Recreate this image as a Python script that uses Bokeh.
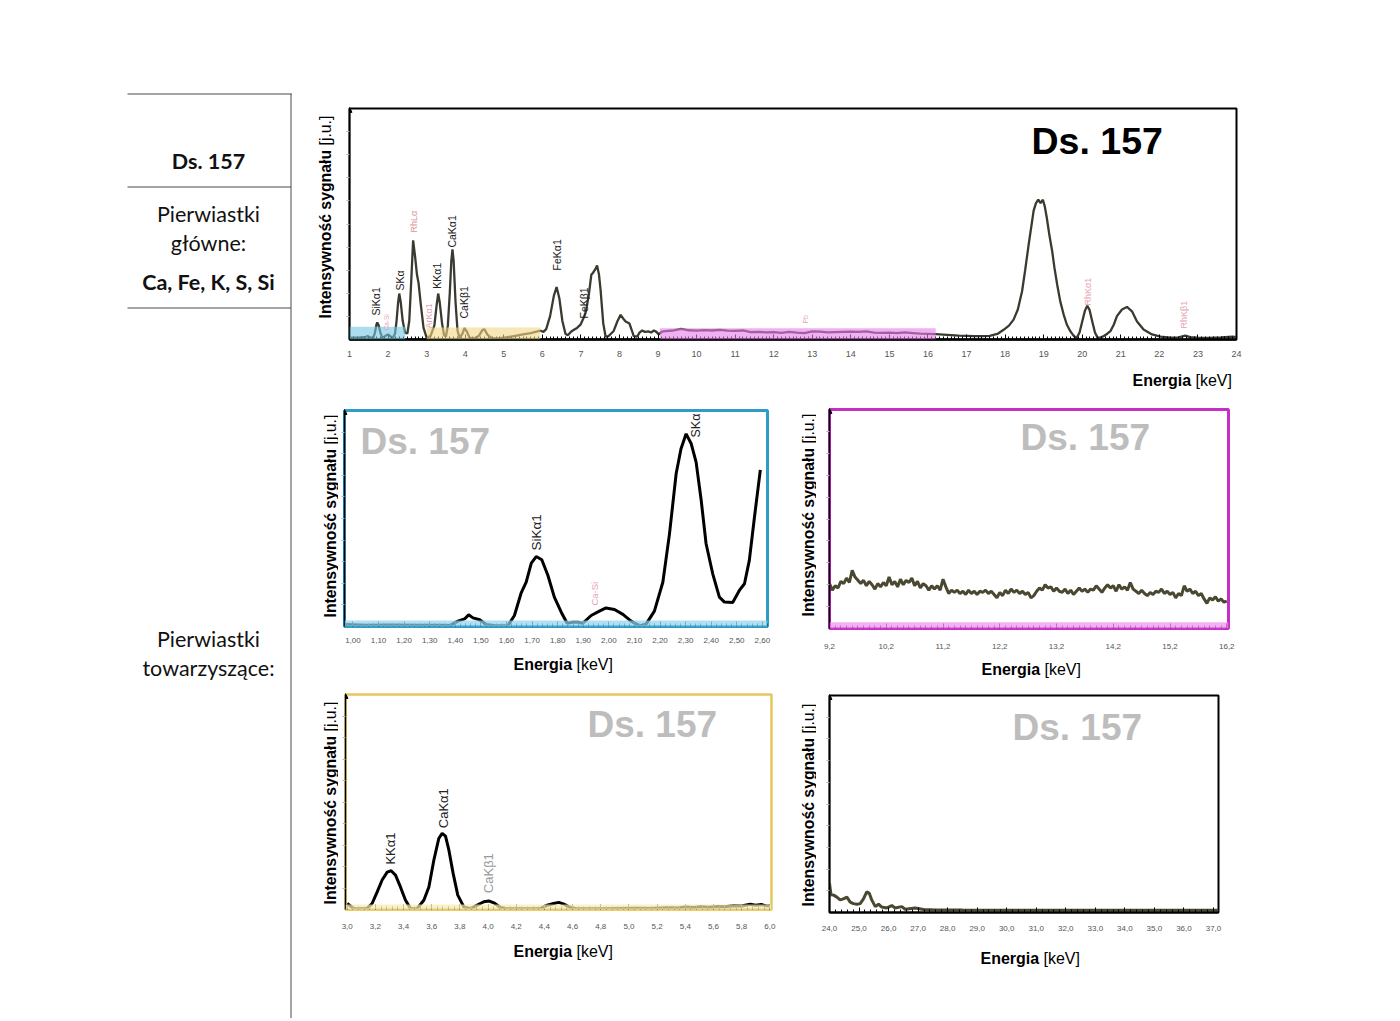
import math
from bokeh.plotting import figure
from bokeh.models import (Range1d, Label, FixedTicker, CustomJSTickFormatter,
                          Arrow, NormalHead, BoxAnnotation, Spacer)
from bokeh.layouts import row, column
from bokeh.embed import file_html
from bokeh.resources import INLINE

# ======================= DATA =======================
sample_name = "Ds. 157"
main_label = ["Pierwiastki", "główne:"]
main_elements = "Ca, Fe, K, S, Si"
accomp_label = ["Pierwiastki", "towarzyszące:"]
y_title_bold, y_title_unit = "Intensywność sygnału", "[j.u.]"
x_title_bold, x_title_unit = "Energia", "[keV]"

# overview spectrum, 1-24 keV (signal in arbitrary units)
top_energy = [1.00, 1.20, 1.40, 1.47, 1.55, 1.62, 1.66, 1.70, 1.72, 1.76, 1.80, 1.85, 1.90, 1.95, 2.00,
              2.05, 2.12, 2.18, 2.22, 2.26, 2.29, 2.33, 2.38, 2.44, 2.50, 2.55, 2.60, 2.65, 2.70, 2.75,
              2.79, 2.85, 2.92, 3.00, 3.10, 3.20, 3.26, 3.30, 3.34, 3.40, 3.45, 3.50, 3.55, 3.60, 3.64,
              3.67, 3.70, 3.75, 3.80, 3.85, 3.93, 3.98, 4.04, 4.12, 4.25, 4.35, 4.45, 4.50, 4.58, 4.70,
              4.90, 5.10, 5.30, 5.50, 5.70, 5.85, 5.95, 6.03, 6.10, 6.20, 6.30, 6.37, 6.44, 6.52, 6.60,
              6.66, 6.75, 6.82, 6.90, 6.99, 7.06, 7.12, 7.20, 7.27, 7.31, 7.36, 7.42, 7.47, 7.51, 7.58,
              7.64, 7.72, 7.85, 7.95, 8.03, 8.10, 8.16, 8.26, 8.32, 8.37, 8.46, 8.52, 8.59, 8.66, 8.76,
              8.82, 8.89, 8.95, 9.02, 9.10, 9.20, 9.40, 9.60, 9.80, 10.0, 10.2, 10.4, 10.6, 10.8, 11.0,
              11.2, 11.4, 11.6, 11.8, 12.0, 12.2, 12.4, 12.6, 12.8, 13.0, 13.2, 13.4, 13.6, 13.8, 14.0,
              14.2, 14.4, 14.6, 14.8, 15.0, 15.2, 15.4, 15.6, 15.8, 16.0, 16.2, 16.4, 16.6, 16.8, 17.0,
              17.2, 17.4, 17.6, 17.8, 17.96, 18.10, 18.22, 18.33, 18.44, 18.52, 18.61, 18.68, 18.74, 18.80, 18.86,
              18.92, 18.98, 19.03, 19.08, 19.15, 19.22, 19.28, 19.35, 19.43, 19.52, 19.60, 19.69, 19.77, 19.85, 19.93,
              20.00, 20.07, 20.13, 20.19, 20.26, 20.33, 20.40, 20.48, 20.56, 20.65, 20.73, 20.82, 20.90, 21.03, 21.16,
              21.29, 21.42, 21.59, 21.81, 22.03, 22.29, 22.50, 22.67, 22.80, 23.00, 23.30, 23.60, 23.90, 24.00]
top_signal = [0.8, 0.8, 1.0, 1.5, 0.8, 0.9, 3.0, 6.5, 7.4, 6.0, 3.0, 0.8, 1.2, 1.8, 2.2,
              1.5, 0.6, 2.5, 8.0, 16.0, 19.9, 16.0, 8.0, 3.0, 2.6, 8.0, 25.0, 42.9, 36.0, 28.0,
              24.5, 15.0, 5.0, 0.8, 1.5, 6.0, 15.0, 19.9, 16.0, 7.0, 2.0, 1.3, 6.0, 20.0, 34.0,
              39.0, 34.0, 16.0, 4.0, 0.8, 2.5, 4.9, 3.5, 0.6, 0.6, 1.5, 4.2, 4.4, 2.0, 0.5,
              0.6, 1.0, 1.6, 2.2, 2.8, 3.4, 3.8, 3.3, 4.5, 10.0, 19.0, 22.7, 18.0, 8.0, 2.5,
              1.8, 3.5, 4.2, 5.0, 6.4, 9.0, 11.4, 18.7, 28.0, 28.8, 30.0, 32.0, 28.0, 21.6, 7.0,
              1.3, 1.5, 3.7, 8.0, 10.7, 9.0, 7.8, 6.9, 4.0, 1.5, 1.3, 3.0, 3.9, 3.3, 3.5,
              3.0, 3.9, 3.4, 2.2, 3.4, 3.6, 3.9, 4.6, 4.0, 3.8, 4.1, 3.9, 4.2, 3.8, 3.7,
              3.9, 3.2, 3.3, 3.1, 3.2, 2.9, 3.3, 3.0, 2.8, 3.5, 3.4, 3.1, 3.2, 3.3, 3.4,
              3.3, 3.5, 3.0, 2.9, 3.0, 2.8, 3.1, 2.8, 2.5, 2.4, 2.3, 2.1, 1.9, 1.7, 1.6,
              1.5, 1.5, 1.6, 2.4, 4.2, 6.0, 8.6, 13.0, 20.9, 30.0, 41.0, 49.0, 55.8, 59.0, 60.5,
              59.0, 60.5, 57.5, 52.8, 45.0, 38.3, 31.0, 23.8, 16.5, 10.7, 6.5, 3.6, 1.8, 0.5, 3.0,
              7.8, 12.5, 14.6, 12.8, 7.8, 3.0, 0.7, 0.9, 1.5, 2.5, 3.6, 6.5, 10.1, 13.0, 14.1,
              12.2, 7.8, 4.3, 2.2, 1.2, 0.8, 0.9, 1.7, 1.0, 0.8, 0.7, 0.9, 1.2, 1.0]
top_ticks = [1, 2, 3, 4, 5, 6, 7, 8, 9, 10, 11, 12, 13, 14, 15, 16, 17, 18, 19, 20, 21, 22, 23, 24]
top_peak_names = ["SiKα1", "Ca-Si", "SKα", "RhLα", "ArKα1", "KKα1", "CaKα1", "CaKβ1",
                  "FeKα1", "FeKβ1", "Pb", "RhKα1", "RhKβ1"]
top_peak_energy = [1.70, 1.96, 2.30, 2.66, 3.05, 3.28, 3.67, 3.98, 6.37, 7.07, 12.82, 20.16, 22.65]
# energy windows shown in the detail plots (keV)
window_si = (1.00, 2.45)
window_kca = (3.00, 5.95)
window_bg = (9.05, 16.20)

# detail 1.00-2.60 keV
si_energy = [0.97, 1.05, 1.15, 1.25, 1.35, 1.38, 1.41, 1.436, 1.452, 1.469, 1.495, 1.521, 1.553, 1.605,
             1.631, 1.657, 1.677, 1.697, 1.716, 1.738, 1.762, 1.787, 1.814, 1.837, 1.859, 1.879, 1.898,
             1.931, 1.963, 1.989, 2.022, 2.055, 2.087, 2.12, 2.146, 2.178, 2.211, 2.237, 2.263, 2.282,
             2.302, 2.322, 2.341, 2.361, 2.38, 2.406, 2.432, 2.452, 2.484, 2.51, 2.53, 2.549, 2.569, 2.592]
si_signal = [0.9, 0.6, 0.7, 0.6, 0.6, 0.5, 2.5, 3.5, 5.4, 4.0, 3.1, 0.9, 0.3, 0.3,
             5.1, 15.4, 20.5, 29.3, 32.4, 30.9, 23.6, 13.6, 6.6, 1.5, 2.0, 2.0, 1.5,
             5.1, 7.1, 8.6, 7.9, 5.6, 2.5, 0.3, 1.2, 7.1, 20.5, 42.9, 70.7, 82.3,
             89.2, 84.6, 76.1, 58.3, 38.3, 24.4, 13.6, 11.3, 11.1, 16.7, 19.8, 30.6, 50.6, 72.5]
si_ticks = [1.00, 1.10, 1.20, 1.30, 1.40, 1.50, 1.60, 1.70, 1.80, 1.90, 2.00, 2.10, 2.20, 2.30, 2.40, 2.50, 2.60]
si_peak_names = ["SiKα1", "Ca-Si", "SKα"]
si_peak_energy = [1.716, 1.943, 2.34]

# detail 9.2-16.2 keV
bg_energy = [9.20, 9.25, 9.30, 9.35, 9.40, 9.45, 9.50, 9.55, 9.60, 9.65, 9.70, 9.75, 9.80, 9.85, 9.90, 9.95,
             10.00, 10.05, 10.10, 10.15, 10.20, 10.25, 10.30, 10.35, 10.40, 10.45, 10.50, 10.55, 10.60, 10.65,
             10.70, 10.75, 10.80, 10.85, 10.90, 10.95, 11.00, 11.05, 11.10, 11.15, 11.20, 11.25, 11.30, 11.35,
             11.40, 11.45, 11.50, 11.55, 11.60, 11.65, 11.70, 11.75, 11.80, 11.85, 11.90, 11.95, 12.00, 12.05,
             12.10, 12.15, 12.20, 12.25, 12.30, 12.35, 12.40, 12.45, 12.50, 12.55, 12.60, 12.65, 12.70, 12.75,
             12.80, 12.85, 12.90, 12.95, 13.00, 13.05, 13.10, 13.15, 13.20, 13.25, 13.30, 13.35, 13.40, 13.45,
             13.50, 13.55, 13.60, 13.65, 13.70, 13.75, 13.80, 13.85, 13.90, 13.95, 14.00, 14.05, 14.10, 14.15,
             14.20, 14.25, 14.30, 14.35, 14.40, 14.45, 14.50, 14.55, 14.60, 14.65, 14.70, 14.75, 14.80, 14.85,
             14.90, 14.95, 15.00, 15.05, 15.10, 15.15, 15.20, 15.25, 15.30, 15.35, 15.40, 15.45, 15.50, 15.55,
             15.60, 15.65, 15.70, 15.75, 15.80, 15.85, 15.90, 15.95, 16.00, 16.05, 16.10, 16.15, 16.20]
bg_signal = [20.5, 17.5, 19.5, 18.5, 21.5, 20.5, 23.0, 21.0, 26.5, 23.5, 22.0, 20.5, 22.0, 19.5, 21.5, 20.0,
             18.0, 20.5, 19.0, 21.0, 19.5, 23.5, 20.0, 21.5, 19.0, 22.5, 20.0, 22.0, 21.0, 23.0,
             19.5, 21.5, 18.5, 20.5, 19.5, 17.5, 19.5, 18.0, 19.5, 17.5, 22.5, 19.0, 16.0, 17.5,
             16.5, 17.5, 16.0, 17.0, 15.5, 17.5, 16.0, 17.0, 15.5, 17.0, 16.5, 17.5, 16.0, 17.0,
             15.5, 14.0, 16.5, 15.0, 17.5, 16.0, 18.0, 16.5, 17.5, 16.0, 17.0, 15.5, 16.5, 14.0,
             15.0, 17.0, 18.5, 17.5, 20.0, 18.5, 19.0, 17.0, 18.5, 17.0, 16.5, 18.0, 16.0, 17.5,
             15.5, 17.0, 18.5, 17.0, 18.0, 16.5, 18.0, 17.5, 19.5, 18.0, 16.5, 18.5, 20.0, 18.5,
             19.5, 17.0, 20.0, 18.0, 19.0, 17.5, 21.0, 18.0, 17.0, 16.0, 17.5, 16.0, 15.0, 16.5,
             15.5, 17.0, 16.5, 18.0, 16.0, 17.0, 15.5, 16.5, 14.0, 16.0, 15.0, 19.5, 17.0, 18.0,
             16.0, 17.0, 15.0, 16.0, 13.5, 11.5, 14.0, 13.0, 14.5, 12.5, 13.5, 12.0, 12.5]
bg_ticks = [9.2, 10.2, 11.2, 12.2, 13.2, 14.2, 15.2, 16.2]

# detail 3.0-6.0 keV
kca_energy = [3.00, 3.047, 3.14, 3.177, 3.213, 3.248, 3.284, 3.312, 3.343, 3.378, 3.414, 3.45, 3.497, 3.544,
              3.58, 3.615, 3.65, 3.674, 3.698, 3.722, 3.752, 3.785, 3.828, 3.875, 3.923, 3.97, 4.005, 4.041,
              4.088, 4.136, 4.25, 4.372, 4.42, 4.466, 4.502, 4.538, 4.585, 4.632, 4.80, 4.95, 5.05, 5.15,
              5.27, 5.35, 5.40, 5.46, 5.51, 5.57, 5.63, 5.68, 5.74, 5.80, 5.86, 5.90, 5.94, 5.97, 6.00]
kca_signal = [2.8, 0.5, 0.4, 2.8, 8.2, 13.7, 17.4, 18.0, 16.0, 10.5, 4.3, 0.4, 0.5, 4.3,
              10.5, 22.9, 33.0, 35.4, 34.1, 27.6, 16.8, 6.7, 1.2, 0.4, 2.0, 3.6, 4.0, 3.1,
              0.9, 0.3, 0.4, 0.4, 2.0, 2.8, 3.3, 2.5, 0.9, 0.3, 0.3, 0.5, 0.6, 0.5,
              0.8, 0.7, 1.2, 0.9, 1.3, 1.1, 1.4, 1.3, 1.7, 1.6, 2.4, 2.0, 2.3, 1.8, 1.6]
kca_ticks = [3.0, 3.2, 3.4, 3.6, 3.8, 4.0, 4.2, 4.4, 4.6, 4.8, 5.0, 5.2, 5.4, 5.6, 5.8, 6.0]
kca_peak_names = ["KKα1", "CaKα1", "CaKβ1"]
kca_peak_energy = [3.307, 3.686, 4.005]

# detail 24-37 keV
hi_energy = [24.0, 24.05, 24.14, 24.25, 24.36, 24.47, 24.59, 24.70, 24.81, 24.93, 25.04, 25.15, 25.26,
             25.35, 25.43, 25.55, 25.66, 25.77, 25.94, 26.11, 26.22, 26.45, 26.56, 26.90, 27.18, 27.60,
             28.5, 30.0, 32.0, 34.0, 36.0, 37.17]
hi_signal = [13.5, 8.2, 8.0, 7.1, 5.8, 6.3, 7.1, 4.8, 4.1, 3.8, 4.1, 6.3, 9.5,
             8.8, 5.8, 2.7, 3.8, 2.5, 2.1, 3.2, 2.1, 2.7, 1.5, 2.1, 1.4, 1.2,
             1.1, 1.0, 1.0, 1.0, 1.0, 1.0]
hi_ticks = [24, 25, 26, 27, 28, 29, 30, 31, 32, 33, 34, 35, 36, 37]

# ======================= STYLE / HELPERS =======================
CHART_FONT = "Liberation Sans"
TABLE_FONT = "Lato"
PINK = "#e6a3b4"
CURVE_DARK = "#3b3a30"
CURVE_OLIVE = "#4a4830"


def make_plot(width, height, bl, br, bt, bb, xr):
    p = figure(width=width, height=height, x_range=Range1d(*xr), y_range=Range1d(0, 100),
               output_backend="svg", toolbar_location=None, title=None,
               min_border_left=bl, min_border_right=br, min_border_top=bt, min_border_bottom=bb)
    p.xgrid.visible = False
    p.ygrid.visible = False
    p.background_fill_color = "white"
    p.border_fill_color = "white"
    return p


def strip(x0, x1, top, w, h):
    """Blank figure whose data coordinates are page pixels (used for titles).
    x0..x1 is the page span of its frame (frames align with the plot above in a column)."""
    f = figure(width=w, height=h, x_range=Range1d(x0, x1), y_range=Range1d(top + h, top),
               output_backend="svg", toolbar_location=None, title=None, min_border=0)
    f.axis.visible = False
    f.grid.visible = False
    f.outline_line_color = None
    return f


def minor_list(start, stop, step):
    n = int(round((stop - start) / step))
    return [round(start + i * step, 5) for i in range(n + 1)]


def style_axes(p, ticks, minor, fmt_digits, label_size, standoff, axis_color, tick_color, axis_width=2):
    xa = p.xaxis[0]
    xa.ticker = FixedTicker(ticks=ticks, minor_ticks=minor)
    xa.formatter = CustomJSTickFormatter(
        code="return tick.toFixed(%d).replace('.', ',');" % fmt_digits)
    xa.axis_line_color = axis_color
    xa.axis_line_width = axis_width
    xa.major_tick_in = 5
    xa.major_tick_out = 0
    xa.minor_tick_in = 3
    xa.minor_tick_out = 0
    xa.major_tick_line_color = tick_color
    xa.minor_tick_line_color = tick_color
    xa.major_label_standoff = standoff
    xa.major_label_text_font = CHART_FONT
    xa.major_label_text_font_size = label_size
    xa.major_label_text_color = "#555555"
    ya = p.yaxis[0]
    ya.ticker = FixedTicker(ticks=[], minor_ticks=[10, 20, 30, 40, 50, 60, 70, 80, 90])
    ya.major_label_standoff = 0
    ya.axis_line_color = "black"
    ya.axis_line_width = 1.5
    ya.major_tick_in = 0
    ya.major_tick_out = 0
    ya.minor_tick_in = 0
    ya.minor_tick_out = 3
    ya.minor_tick_line_color = "#b5b5b5"
    x0 = p.x_range.start
    p.add_layout(Arrow(end=NormalHead(size=5, fill_color="black", line_color="black"),
                       x_start=x0, y_start=96, x_end=x0, y_end=100.5,
                       line_color="black", line_width=1))


def add_text(p, x, y, text, size, bold=False, color="black", angle=0.0,
             align="left", baseline="middle", font=CHART_FONT, units="data"):
    p.add_layout(Label(x=x, y=y, x_units=units, y_units=units, text=text, angle=angle,
                       text_font=font, text_font_size="%gpx" % size,
                       text_font_style="bold" if bold else "normal",
                       text_color=color, text_align=align, text_baseline=baseline))


def add_ylabel(f, cx, y_bottom):
    add_text(f, cx, y_bottom, y_title_bold, 15.8, bold=True, angle=math.pi / 2)
    add_text(f, cx, y_bottom - 173, y_title_unit, 15.8, angle=math.pi / 2)


def add_xlabel(f, x_left, cy):
    add_text(f, x_left, cy, x_title_bold, 16, bold=True)
    add_text(f, x_left + 63, cy, x_title_unit, 16)


def add_peak_labels(p, names, energies, heights, colors, sizes):
    for name, e, h, c, s in zip(names, energies, heights, colors, sizes):
        add_text(p, e, h, name, s, color=c, angle=math.pi / 2)


def frame_text(p, fl, fb, px, py, text, size, color):
    add_text(p, px - fl, fb - py, text, size, bold=True, color=color, units="screen")


# ======================= LEFT TABLE COLUMN =======================
tbl = strip(0, 292, 0, 292, 1018)
tbl.segment(x0=[127, 127, 127, 290.5], y0=[93.5, 186.5, 307.5, 93.5],
            x1=[292, 290.5, 290.5, 290.5], y1=[93.5, 186.5, 307.5, 1018],
            line_color="#4a4a4a", line_width=1)
table_rows = [(sample_name, 160, True), (main_label[0], 213, False), (main_label[1], 242, False),
              (main_elements, 281, True), (accomp_label[0], 638, False), (accomp_label[1], 667, False)]
for txt, yy, bold in table_rows:
    add_text(tbl, 208, yy, txt, 21.5, bold=bold, color="#111111", align="center",
             baseline="middle", font=TABLE_FONT)

# ======================= TOP LINE =======================
line_fig = figure(width=980, height=1, x_range=Range1d(0, 1), y_range=Range1d(0, 1),
                  output_backend="svg", toolbar_location=None, title=None, min_border=0)
line_fig.axis.visible = False
line_fig.grid.visible = False
line_fig.outline_line_color = None
line_fig.background_fill_color = "#4a4a4a"
line_fig.border_fill_color = "#4a4a4a"

# ======================= OVERVIEW PLOT =======================
FL, FR, FB = 349, 1236, 339
pT = make_plot(957, 272, 14, 56, 14, 27, (1, 24))
pT.line(top_energy, top_signal, line_color=CURVE_DARK, line_width=2.3)
for (a, b), top, col in [(window_si, 5.5, "#74c6e4"), (window_kca, 5.2, "#f1d685"), (window_bg, 4.9, "#e77be7")]:
    pT.add_layout(BoxAnnotation(left=a, right=b, bottom=0, top=top, fill_color=col,
                                fill_alpha=0.6, line_color=None))
pT.outline_line_color = "black"
pT.outline_line_width = 2
style_axes(pT, top_ticks, minor_list(1, 24, 0.1), 0, "9px", 11, "black", "black", axis_width=2.5)
top_label_h = [10.4, 3.9, 21.2, 46.3, 4.8, 22.0, 39.8, 9.1, 29.9, 9.1, 6.9, 14.7, 4.8]
top_label_c = ["#222", PINK, "#222", "#e0909c", PINK, "#222", "#222", "#222", "#222", "#222", PINK, PINK, PINK]
top_label_s = [10.5, 6.5, 10.5, 9, 9, 10.5, 10.5, 10.5, 10.5, 10.5, 7, 9, 9]
add_peak_labels(pT, top_peak_names, top_peak_energy, top_label_h, top_label_c, top_label_s)
frame_text(pT, FL, FB, 1031, 140.5, sample_name, 37.5, "black")
ylT = strip(292, 335, 94, 43, 302)
add_ylabel(ylT, 325, 318)
xlT = strip(FL, FR, 366, 957, 30)
add_xlabel(xlT, 1132, 380)
block_T = row(ylT, column(pT, xlT))

# ======================= DETAIL 1.0-2.6 keV =======================
FL, FR, FB = 344, 767, 626
pML = make_plot(462, 256, 6, 33, 14, 26, (0.967, 2.62))
pML.line(si_energy, si_signal, line_color="black", line_width=3)
pML.add_layout(BoxAnnotation(bottom=0, top=2.8, fill_color="#8fd3ec", fill_alpha=0.7, line_color=None))
pML.outline_line_color = "#2d9cc6"
pML.outline_line_width = 3
style_axes(pML, si_ticks, minor_list(0.98, 2.62, 0.02), 2, "8px", 11, "#2d9cc6", "#1c4f63")
add_peak_labels(pML, si_peak_names, si_peak_energy, [35.2, 9.7, 87.5],
                ["#222", PINK, "#222"], [13.5, 9.5, 12.5])
frame_text(pML, FL, FB, 360, 440.5, sample_name, 37, "#bdbdbd")
ylML = strip(292, 338, 396, 46, 282)
add_ylabel(ylML, 330, 617)
xlML = strip(FL, FR, 652, 462, 26)
add_xlabel(xlML, 513, 664)
block_ML = row(ylML, column(pML, xlML))

# ======================= DETAIL 9.2-16.2 keV =======================
FL, FR, FB = 829, 1228, 628
pMR = make_plot(476, 258, 13, 64, 13, 26, (9.2, 16.23))
pMR.line(bg_energy, bg_signal, line_color=CURVE_OLIVE, line_width=3)
pMR.add_layout(BoxAnnotation(bottom=0, top=2.8, fill_color="#f08ff0", fill_alpha=0.7, line_color=None))
pMR.outline_line_color = "#c62fc6"
pMR.outline_line_width = 3
style_axes(pMR, bg_ticks, minor_list(9.2, 16.2, 0.1), 1, "8px", 15, "#c62fc6", "#4a2a4a")
frame_text(pMR, FL, FB, 1020, 436.5, sample_name, 37, "#bdbdbd")
ylMR = strip(800, 816, 396, 16, 282)
add_ylabel(ylMR, 807.5, 616)
xlMR = strip(FL, FR, 654, 476, 24)
add_xlabel(xlMR, 981, 669)
block_MR = row(ylMR, column(pMR, xlMR))

# ======================= DETAIL 3.0-6.0 keV =======================
FL, FR, FB = 345, 771, 909
pBL = make_plot(462, 259, 7, 29, 16, 28, (2.988, 6.012))
pBL.line(kca_energy, kca_signal, line_color="black", line_width=3)
pBL.add_layout(BoxAnnotation(bottom=0, top=2.3, fill_color="#f5e9b5", fill_alpha=0.7, line_color=None))
pBL.outline_line_color = "#e3c85a"
pBL.outline_line_width = 2.5
style_axes(pBL, kca_ticks, minor_list(3.0, 6.0, 0.04), 1, "8px", 14, "#e3c85a", "#555555")
add_peak_labels(pBL, kca_peak_names, kca_peak_energy, [20.9, 37.8, 7.6],
                ["#222", "#222", "#9a9a9a"], [13, 13, 13])
frame_text(pBL, FL, FB, 587, 724, sample_name, 37, "#bdbdbd")
ylBL = strip(292, 338, 678, 46, 300)
add_ylabel(ylBL, 330, 904)
xlBL = strip(FL, FR, 937, 462, 41)
add_xlabel(xlBL, 513, 951)
block_BL = row(ylBL, column(pBL, xlBL))

# ======================= DETAIL 24-37 keV =======================
FL, FR, FB = 829, 1218, 912
pBR = make_plot(476, 262, 13, 74, 17, 28, (24.0, 37.17))
pBR.line(hi_energy, hi_signal, line_color=CURVE_OLIVE, line_width=3)
pBR.outline_line_color = "black"
pBR.outline_line_width = 2
style_axes(pBR, hi_ticks, minor_list(24.0, 37.0, 0.2), 1, "8px", 13, "black", "black")
frame_text(pBR, FL, FB, 1012, 726.5, sample_name, 37, "#bdbdbd")
ylBR = strip(800, 816, 678, 16, 300)
add_ylabel(ylBR, 807.5, 906)
xlBR = strip(FL, FR, 940, 476, 38)
add_xlabel(xlBR, 980, 958)
block_BR = row(ylBR, column(pBR, xlBR))

# ======================= LAYOUT =======================
right_col = column(Spacer(width=1000, height=93), line_fig, block_T,
                   row(block_ML, block_MR), row(block_BL, block_BR))
layout = row(tbl, right_col)

with open("out.html", "w") as f:
    f.write(file_html(layout, INLINE))
